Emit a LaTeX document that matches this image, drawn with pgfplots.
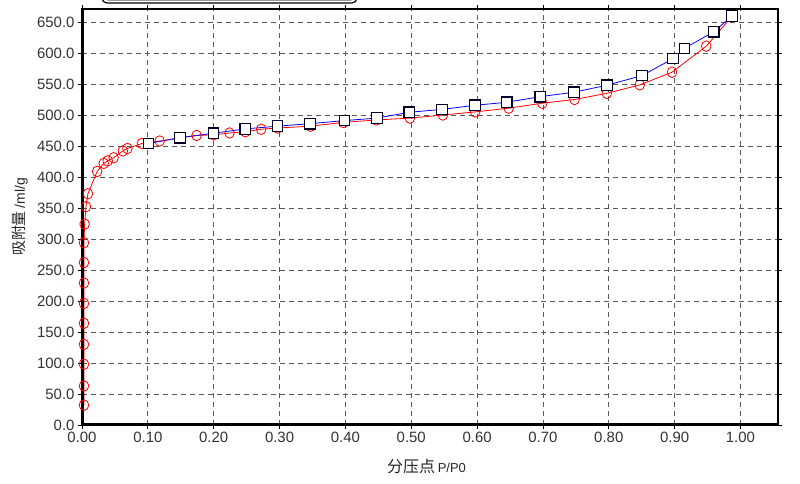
\documentclass[border=0pt]{standalone}
\usepackage{pgfplots}
\pgfplotsset{compat=1.18}
\usepackage{fontspec}
\setmainfont{Liberation Sans}
\newfontfamily\cjk{Noto Sans CJK SC}
\begin{document}
\begin{tikzpicture}[x=1bp,y=1bp]
\useasboundingbox (0,0) rectangle (800,484);
\fill[white] (0,0) rectangle (800,484);
\draw[black!40, line width=1bp, rounded corners=4bp] (105,483.5) rectangle (354,500);
\draw[black, line width=1.2bp, rounded corners=5bp] (102,481) rectangle (357,500);
\begin{axis}[
  at={(82bp,59bp)}, anchor=south west,
  scale only axis, width=696bp, height=416bp,
  xmin=0, xmax=1.057, ymin=0, ymax=671,
  xtick={0,0.1,0.2,0.3,0.4,0.5,0.6,0.7,0.8,0.9,1.0},
  ytick={0,50,100,150,200,250,300,350,400,450,500,550,600,650},
  /pgf/number format/assume math mode=true,
  xticklabel style={/pgf/number format/.cd, fixed, fixed zerofill, precision=2},
  yticklabel style={/pgf/number format/.cd, fixed, fixed zerofill, precision=1},
  tick label style={font=\fontsize{15}{18}\selectfont, text=black!80},
  tick align=outside, major tick length=4bp,
  tick style={black, line width=0.8bp},
  grid=major,
  major grid style={dash pattern=on 5bp off 4bp, black!65, line width=0.8bp},
  axis line style={black, line width=1.5bp},
  clip=false,
  xlabel={{\cjk\fontsize{16}{18}\selectfont 分压点} {\fontsize{13}{15}\selectfont P/P0}},
  ylabel={{\cjk\fontsize{15}{18}\selectfont 吸附量} {\fontsize{14}{16}\selectfont /ml/g}},
  xlabel style={at={(axis description cs:0.495,-0.1)}, anchor=center, text=black!85},
  ylabel style={at={(axis description cs:-0.089,0.5)}, anchor=center, text=black!85},
]
\addplot[red, line width=0.8bp, mark=o, mark size=4.8bp, mark options={line width=0.8bp, yscale=1.1}] coordinates {
(0.003,32) (0.003,63) (0.003,98) (0.003,130) (0.003,164) (0.003,196) (0.003,229)
(0.003,262) (0.003,294) (0.004,324) (0.006,352) (0.009,373) (0.023,409) (0.033,422)
(0.039,426) (0.048,431) (0.062,442) (0.069,446) (0.091,454) (0.118,458) (0.174,467)
(0.200,468) (0.224,471) (0.248,473) (0.272,477) (0.297,479) (0.347,482) (0.397,488)
(0.447,492) (0.498,495) (0.548,500) (0.597,505) (0.648,511) (0.699,519) (0.748,525)
(0.797,535) (0.847,548.5) (0.896,569) (0.948,611) (0.987,659)
};
\addplot[blue, line width=0.8bp, mark=square*, mark size=5.3bp, mark options={fill=white, draw=black!85!blue, line width=1.2bp}] coordinates {
(0.101,454) (0.149,463.5) (0.1996,470.6) (0.248,477.6) (0.297,482) (0.3465,486)
(0.3987,491) (0.448,495) (0.497,504.4) (0.5466,509) (0.597,515.7) (0.645,520.5)
(0.696,529.6) (0.747,536.7) (0.797,548) (0.8506,563.6) (0.8977,591) (0.915,607.4)
(0.9594,634.3) (0.987,659.4)
};
\draw[black, line width=3bp] (rel axis cs:0,1) -- (rel axis cs:0,0) -- (rel axis cs:1,0);
\end{axis}
\end{tikzpicture}
\end{document}
